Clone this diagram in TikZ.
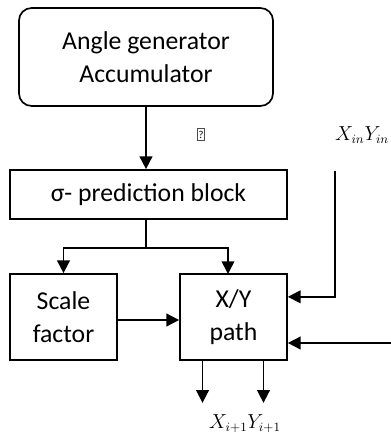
\documentclass[tikz,border=0pt]{standalone}
\usepackage{fontspec}
\setmainfont{Carlito}
\usepackage{amsmath}
\usetikzlibrary{arrows.meta,calc}

\begin{document}
\begin{tikzpicture}[x=0.025cm, y=-0.025cm,
  block/.style={draw, line width=1.2pt, align=center, inner sep=0pt, font=\fontsize{18.3}{23}\selectfont},
  arr/.style={line width=1.2pt, -{Triangle[width=9pt,length=9pt]}},
  wire/.style={line width=1.2pt},
  var/.style={font=\fontsize{13.5}{16}\selectfont}]
\useasboundingbox (0,0) rectangle (390,434);
\node [block, rounded corners=9pt, minimum width=254*0.7113pt, minimum height=98*0.7113pt] (acc) at (146,57) {Angle generator\\Accumulator};
\node [block, minimum width=277*0.7113pt, minimum height=49*0.7113pt] (pred) at (148.5,194.5) {σ- prediction block};
\node [block, minimum width=107*0.7113pt, minimum height=86*0.7113pt] (scale) at (63.5,317) {Scale\\factor};
\node [block, minimum width=107*0.7113pt, minimum height=86*0.7113pt] (xy) at (233.5,317) {X/Y\\path};
\node [draw=black!70, line width=0.6pt, inner sep=0pt, minimum width=5pt, minimum height=9pt, font=\fontsize{7.5}{8}\selectfont] (q) at (201,134.5) {?};
\node [var, anchor=base east, inner sep=0.5pt] (xin) at (390,140) {$X_{in}Y_{in}$};
\node [var, anchor=base] (xout) at (245,428) {$X_{i+1}Y_{i+1}$};
\coordinate (split) at (146,248);
\coordinate (xytop) at (228,274);
\coordinate (xintop) at (335,171);
\coordinate (yin) at (391,343);
\draw [arr] (acc.south) -- (acc.south |- pred.north);
\draw [wire] (split |- pred.south) -- (split);
\draw [arr] (split) -| (scale.north);
\draw [arr] (split) -| (xytop);
\draw [arr] (xintop) |- ($(xy.north east)!0.27!(xy.south east)$);
\draw [arr] (yin) -- (yin -| xy.east);
\draw [arr] (scale.east |- 0,320) -- (xy.west |- 0,320);
\draw [arr] ($(xy.south west)!0.215!(xy.south east)$) -- ++(0,42);
\draw [arr] ($(xy.south west)!0.776!(xy.south east)$) -- ++(0,42);
\end{tikzpicture}
\end{document}
